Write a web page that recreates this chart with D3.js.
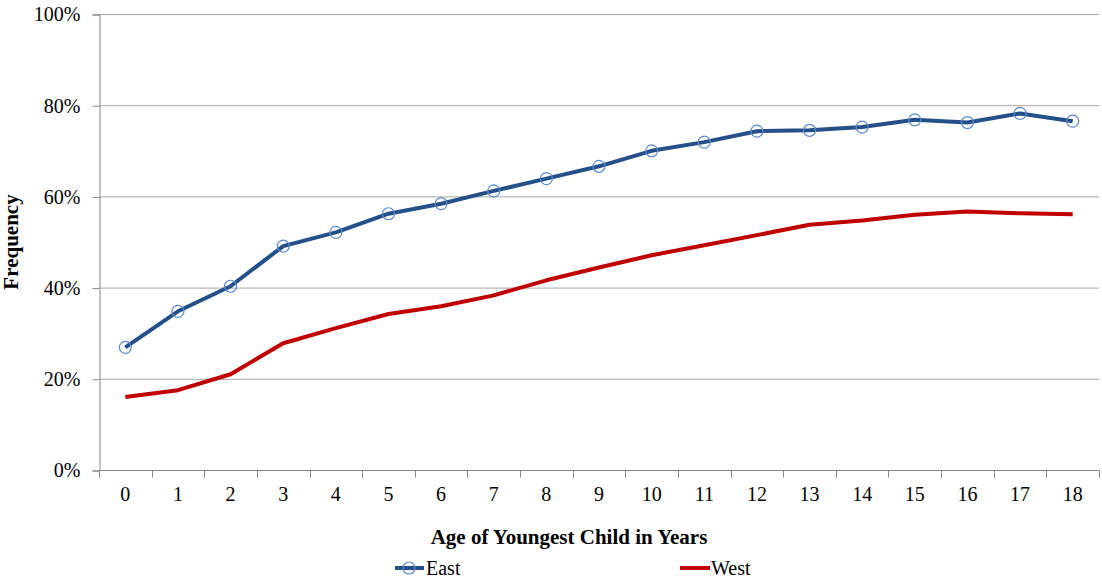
<!DOCTYPE html>
<html>
<head>
<meta charset="utf-8">
<script src="https://d3js.org/d3.v7.min.js"></script>
<style>
  body { margin: 0; background: #fff; }
  svg text { font-family: "Liberation Serif", "DejaVu Serif", "Times New Roman", serif !important; fill: #000; }
</style>
</head>
<body>
<script>
// ages on the x axis
var ages = ["0","1","2","3","4","5","6","7","8","9","10","11","12","13","14","15","16","17","18"];
// frequency in percent
var east = [26.9, 34.8, 40.3, 49.1, 52.1, 56.2, 58.4, 61.2, 63.9, 66.6, 70.0, 71.9, 74.3, 74.5, 75.2, 76.8, 76.2, 78.2, 76.5];
var west = [16.0, 17.5, 21.0, 27.8, 31.1, 34.2, 35.9, 38.3, 41.6, 44.4, 47.1, 49.3, 51.5, 53.8, 54.7, 56.0, 56.7, 56.3, 56.1];
var yTicks = [0, 20, 40, 60, 80, 100];

var W = 1102, H = 578;
var margin = {left: 99, top: 14, right: 3, bottom: 108};
var serif = '"Liberation Serif", "DejaVu Serif", serif';

var svg = d3.select("body").append("svg")
  .attr("width", W).attr("height", H)
  .attr("font-family", serif);

var x = d3.scaleBand().domain(ages)
  .range([margin.left, W - margin.right]);
var y = d3.scaleLinear().domain([0, 100])
  .range([H - margin.bottom, margin.top]);

// gridlines
svg.append("g").selectAll("line")
  .data(yTicks.filter(function(d){ return d > 0; }))
  .enter().append("line")
  .attr("x1", margin.left).attr("x2", W - margin.right)
  .attr("y1", function(d){ return y(d) + 0.5; })
  .attr("y2", function(d){ return y(d) + 0.5; })
  .attr("stroke", "#a6a6a6").attr("stroke-width", 1);

// y axis
var yAxis = svg.append("g")
  .attr("transform", "translate(" + (margin.left + 0.5) + ",0.5)")
  .call(d3.axisLeft(y).tickValues(yTicks).tickSize(7).tickPadding(12)
    .tickFormat(function(d){ return d + "%"; }));
yAxis.attr("font-family", serif);
yAxis.selectAll("text").style("font-size", "20px");

// x axis
var xAxis = svg.append("g")
  .attr("transform", "translate(0," + (y(0) + 0.5) + ")")
  .call(d3.axisBottom(x).tickSize(0).tickPadding(16));
xAxis.attr("font-family", serif);
xAxis.selectAll("text").style("font-size", "20px");
// tick marks at band edges
xAxis.selectAll(".edge")
  .data(ages.concat(["end"]))
  .enter().append("line")
  .attr("class", "edge")
  .attr("x1", function(d, i){ return Math.round(margin.left + i * x.step()) + 0.5; })
  .attr("x2", function(d, i){ return Math.round(margin.left + i * x.step()) + 0.5; })
  .attr("y1", 0).attr("y2", 7)
  .attr("stroke", "#868686");

svg.selectAll(".domain").attr("stroke", "#868686");
yAxis.selectAll(".tick line").attr("stroke", "#868686");
xAxis.select(".domain").attr("d", "M" + margin.left + ",0H" + (W - margin.right));

// lines
var line = d3.line()
  .x(function(d, i){ return x(ages[i]) + x.bandwidth() / 2; })
  .y(function(d){ return y(d); });

svg.append("path").datum(west)
  .attr("d", line).attr("fill", "none")
  .attr("stroke", "#c00000").attr("stroke-width", 4)
  .attr("stroke-linejoin", "round");

svg.append("path").datum(east)
  .attr("d", line).attr("fill", "none")
  .attr("stroke", "#24508a").attr("stroke-width", 4)
  .attr("stroke-linejoin", "round");

svg.append("g").selectAll("circle")
  .data(east).enter().append("circle")
  .attr("cx", function(d, i){ return x(ages[i]) + x.bandwidth() / 2; })
  .attr("cy", function(d){ return y(d); })
  .attr("r", 6)
  .attr("fill", "none")
  .attr("stroke", "#5a8ad0").attr("stroke-width", 1.2);

// axis titles
svg.append("text")
  .attr("x", 569)
  .attr("y", 544)
  .attr("text-anchor", "middle")
  .style("font-size", "21px").style("font-weight", "bold")
  .text("Age of Youngest Child in Years");

svg.append("text")
  .attr("transform", "translate(18," + ((margin.top + y(0)) / 2) + ") rotate(-90)")
  .attr("text-anchor", "middle")
  .style("font-size", "21px").style("font-weight", "bold")
  .text("Frequency");

// legend
var leg = svg.append("g");
leg.append("line").attr("x1", 395).attr("x2", 424).attr("y1", 568).attr("y2", 568)
  .attr("stroke", "#24508a").attr("stroke-width", 4);
leg.append("circle").attr("cx", 409).attr("cy", 568).attr("r", 6)
  .attr("fill", "none").attr("stroke", "#5a8ad0").attr("stroke-width", 1.2);
leg.append("text").attr("x", 426).attr("y", 575)
  .style("font-size", "20px").text("East");
leg.append("line").attr("x1", 680).attr("x2", 710).attr("y1", 568).attr("y2", 568)
  .attr("stroke", "#c00000").attr("stroke-width", 4);
leg.append("text").attr("x", 711).attr("y", 575)
  .style("font-size", "20px").text("West");
</script>
</body>
</html>
